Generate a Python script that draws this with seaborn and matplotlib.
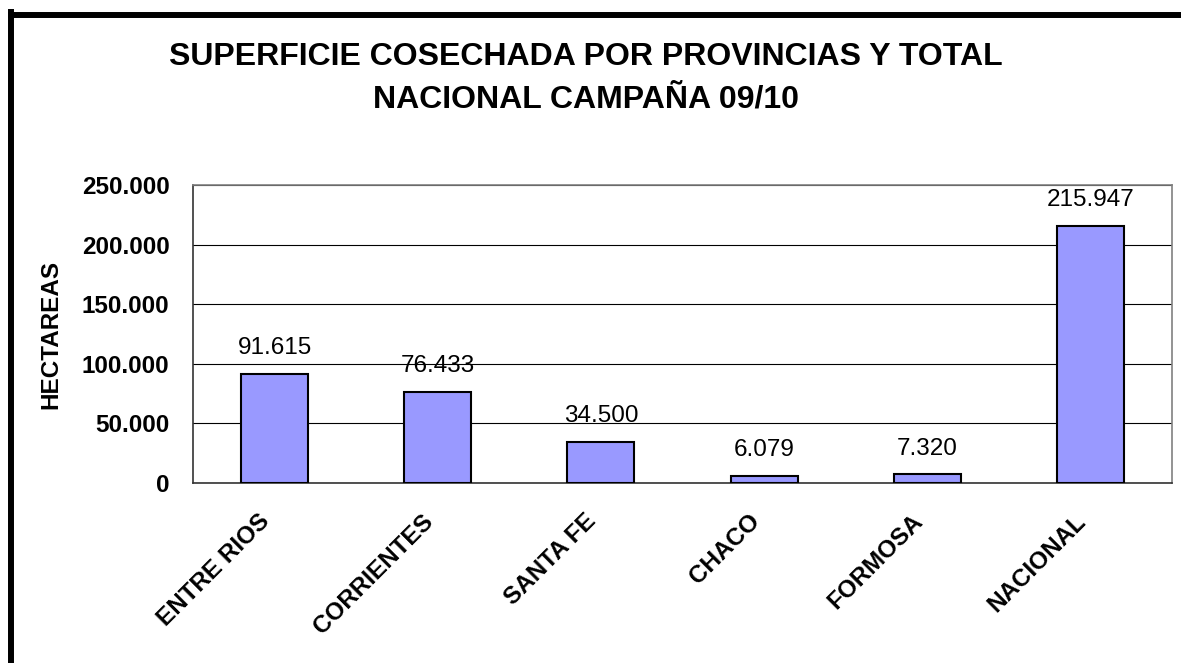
import pandas as pd
import matplotlib.pyplot as plt
import seaborn as sns
from matplotlib.ticker import FuncFormatter, FixedLocator
from matplotlib.lines import Line2D

# data
provincias = ['ENTRE RIOS', 'CORRIENTES', 'SANTA FE', 'CHACO', 'FORMOSA', 'NACIONAL']
hectareas = [91615, 76433, 34500, 6079, 7320, 215947]
y_ticks = [0, 50000, 100000, 150000, 200000, 250000]

df = pd.DataFrame({'provincia': provincias, 'hectareas': hectareas})

sns.set_style('white')
plt.rcParams['font.family'] = ['Liberation Sans', 'DejaVu Sans']
plt.rcParams['text.color'] = 'black'
plt.rcParams['axes.labelcolor'] = 'black'
plt.rcParams['xtick.color'] = 'black'
plt.rcParams['ytick.color'] = 'black'


def miles(v, pos=None):
    # separador de miles con punto
    return f"{int(round(v)):,}".replace(',', '.')


fig = plt.figure(figsize=(11.81, 6.63), dpi=100)
ax = fig.add_axes([193 / 1181, 1 - 483 / 663, (1172 - 193) / 1181, (483 - 185) / 663])

sns.barplot(data=df, x='provincia', y='hectareas', color='#9999FF', saturation=1,
            edgecolor='black', linewidth=1.5, width=0.41, ax=ax, zorder=3)

ax.set_xlim(-0.5, len(provincias) - 0.5)
ax.set_ylim(0, 250000)
ax.yaxis.set_major_locator(FixedLocator(y_ticks))
ax.yaxis.set_major_formatter(FuncFormatter(miles))
ax.grid(axis='y', color='black', linewidth=0.8, zorder=0)
ax.set_axisbelow(True)

# ticks on category boundaries, labels on centres
ax.set_xticks([i - 0.5 for i in range(len(provincias) + 1)], minor=True)
ax.tick_params(axis='x', which='minor', length=8, width=1, color='#444444', direction='out')
ax.tick_params(axis='x', which='major', length=0, pad=31)
ax.tick_params(axis='y', length=8, width=1, color='#444444', pad=9, direction='out')
ax.set_xticklabels(provincias, rotation=45, ha='right', va='bottom',
                   rotation_mode='anchor', fontsize=17.5, fontweight='bold')
for lab in ax.get_yticklabels():
    lab.set_fontsize(17.5)
    lab.set_fontweight('bold')

ax.set_xlabel('')
ax.set_ylabel('HECTAREAS', fontsize=17.5, fontweight='bold', labelpad=14)

for side in ['left', 'bottom']:
    ax.spines[side].set_color('#333333')
    ax.spines[side].set_linewidth(1.2)
for side in ['top', 'right']:
    ax.spines[side].set_visible(True)
    ax.spines[side].set_color('#808080')
    ax.spines[side].set_linewidth(1.2)

# etiquetas de valor
for i, v in enumerate(hectareas):
    ax.annotate(miles(v), (i, v), xytext=(0, 14), textcoords='offset points',
                ha='center', va='baseline', fontsize=17.5)

fig.text(586 / 1181, 1 - 57 / 663, 'SUPERFICIE COSECHADA POR PROVINCIAS Y TOTAL',
         ha='center', va='center', fontsize=23, fontweight='bold')
fig.text(586 / 1181, 1 - 100 / 663, 'NACIONAL CAMPAÑA 09/10',
         ha='center', va='center', fontsize=23, fontweight='bold')

# marco del grafico (solo izquierda y arriba visibles)
fig.add_artist(Line2D([11 / 1181, 11 / 1181], [0, 1 - 12 / 663], color='black',
                      linewidth=4.3, transform=fig.transFigure, solid_capstyle='projecting'))
fig.add_artist(Line2D([11 / 1181, 1], [1 - 14.5 / 663, 1 - 14.5 / 663], color='black',
                      linewidth=4.3, transform=fig.transFigure, solid_capstyle='projecting'))

plt.savefig('out.png', dpi=100)
